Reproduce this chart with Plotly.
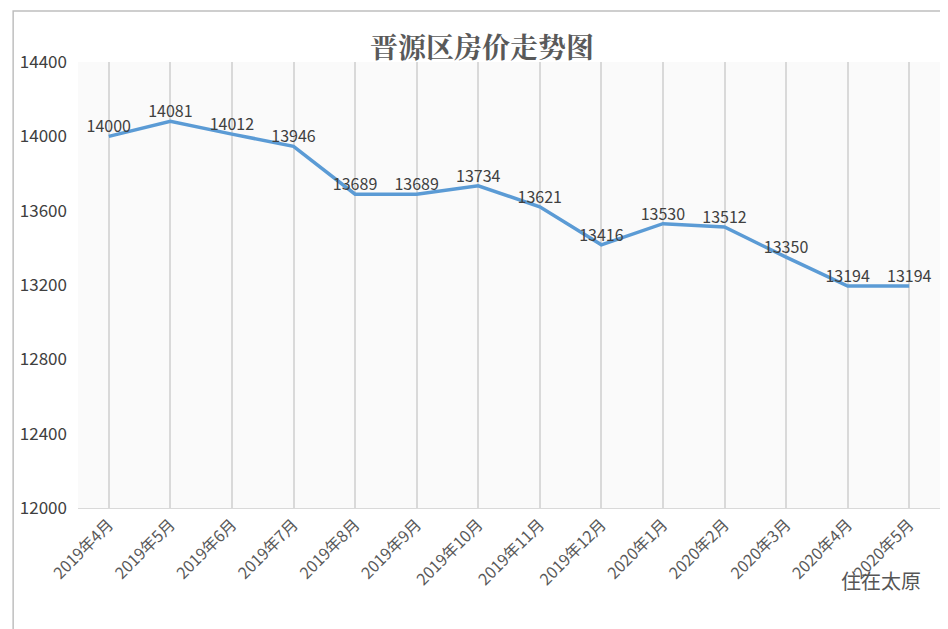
import plotly.graph_objects as go

months = ["2019年4月","2019年5月","2019年6月","2019年7月","2019年8月","2019年9月","2019年10月",
          "2019年11月","2019年12月","2020年1月","2020年2月","2020年3月","2020年4月","2020年5月"]
prices = [14000,14081,14012,13946,13689,13689,13734,13621,13416,13530,13512,13350,13194,13194]
yticks = [12000,12400,12800,13200,13600,14000,14400]

L, R, T, B, W, H = 68, 16, 54, 129, 948, 629
pw, ph = W - L - R, H - T - B

fig = go.Figure(go.Scatter(
    x=months, y=prices, mode="lines+text", text=[str(p) for p in prices],
    textposition="top center", textfont=dict(size=16, color="#404040", family="Noto Sans CJK SC"),
    line=dict(color="#5b9bd5", width=3.5), cliponaxis=False))

fig.update_layout(
    width=W, height=H, paper_bgcolor="white", plot_bgcolor="#fafafa",
    margin=dict(l=L, r=R, t=T, b=B),
    title=dict(text="<b>晋源区房价走势图</b>", x=0.5, y=1 - 40 / H, yanchor="middle", xanchor="center",
               font=dict(size=28, color="#595959", family="Noto Serif CJK SC, Noto Sans CJK SC")),
    showlegend=False,
    xaxis=dict(range=[-0.5, 13.5], showgrid=True, gridcolor="#d9d9d9", gridwidth=1.5, tickangle=-45,
               tickfont=dict(size=16, color="#595959", family="Noto Sans CJK SC"),
               showline=True, linecolor="#d9d9d9", ticks=""),
    yaxis=dict(range=[12000, 14400], tickvals=yticks, ticktext=[str(v) for v in yticks],
               showgrid=False, zeroline=False, ticklabelstandoff=10,
               tickfont=dict(size=17, color="#404040", family="Noto Sans CJK SC")),
    shapes=[dict(type="rect", xref="paper", yref="paper",
                 x0=-(L - 3) / pw, x1=1 + (R - 8) / pw, y0=-(B - 7) / ph, y1=1 + (T - 3) / ph,
                 line=dict(color="#bfbfbf", width=1.5))],
    annotations=[dict(text="住在太原", xref="paper", yref="paper", x=0.98, y=-0.2, xanchor="right",
                      showarrow=False, font=dict(size=20, color="#555555", family="Noto Sans CJK SC"))],
)
fig.write_html("out.html")
